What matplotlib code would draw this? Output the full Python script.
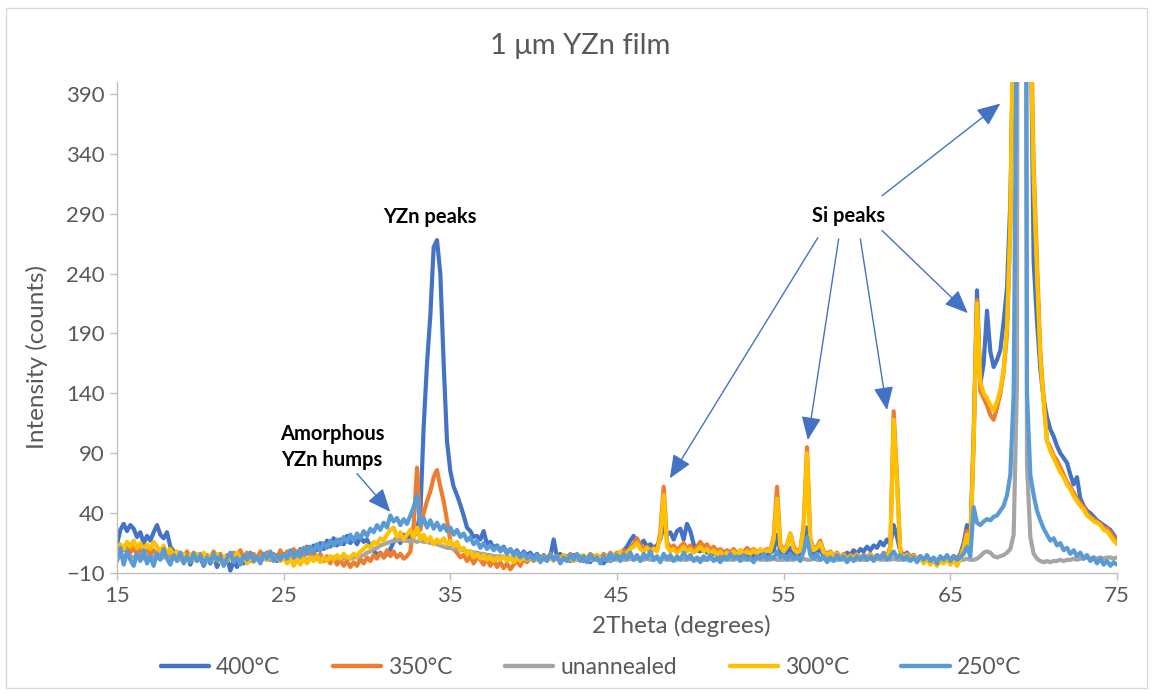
import numpy as np
import matplotlib.pyplot as plt
from matplotlib.patches import Rectangle

plt.rcParams['font.family'] = ['Lato', 'DejaVu Sans']

# 2theta sampling: 0.2 deg steps, 15..75 (each row below = 5 degrees)
two_theta = np.round(np.linspace(15.0, 75.0, 301), 1)

counts_400 = [
    14, 26, 31, 25, 30, 27, 20, 24, 15, 21, 17, 24, 30, 22, 19, 24, 12, 8, 4, 7, 1, 5, -3, 4, 0,
    3, -4, 2, -2, 5, -5, 1, -3, 3, -8, 0, -5, 2, -2, 4, 0, 5, 1, 6, 2, 7, 1, 5, 0, 4,
    3, 7, 2, 8, 4, 10, 6, 12, 7, 13, 9, 15, 10, 17, 12, 19, 13, 18, 14, 21, 15, 19, 14, 20, 16,
    18, 12, 9, 5, 7, 3, 6, 10, 16, 20, 15, 22, 18, 24, 20, 26, 40, 112, 165, 205, 262, 268, 240, 165, 100,
    75, 62, 55, 47, 38, 28, 25, 20, 21, 18, 25, 14, 16, 11, 13, 9, 12, 7, 10, 6, 9, 4, 8, 5, 7,
    3, 6, 2, 5, 1, 4, 18, 3, 6, 1, 4, 0, 5, 2, 4, 0, 3, -1, 4, 1, 3, -2, 2, 0, 3,
    2, 5, 9, 12, 17, 21, 16, 14, 17, 12, 14, 11, 13, 18, 30, 22, 24, 18, 25, 27, 18, 31, 25, 14, 9,
    8, 11, 7, 10, 6, 9, 5, 8, 4, 7, 3, 6, 4, 7, 3, 6, 4, 8, 5, 7, 4, 7, 9, 22, 8,
    5, 7, 11, 6, 4, 6, 9, 28, 8, 5, 7, 10, 4, 6, 2, 5, 1, 4, 3, 7, 5, 9, 6, 10, 8,
    12, 9, 13, 11, 16, 13, 18, 14, 30, 20, 8, 5, 7, 3, 5, 1, 4, 0, 3, -1, 2, 0, 3, -1, 2,
    1, 4, 2, 6, 15, 30, 18, 100, 226, 148, 165, 209, 175, 162, 168, 176, 200, 228, 300, 450, 1200, 3500, 2000, 700, 480,
    250, 200, 160, 135, 120, 110, 104, 96, 90, 86, 82, 72, 64, 70, 52, 46, 42, 40, 37, 34, 32, 30, 28, 26, 22,
    18,
]

counts_350 = [
    6, 12, 9, 14, 7, 12, 5, 10, 6, 11, 4, 9, 5, 10, 3, 8, 2, 7, 1, 6, 2, 8, 3, 7, 1,
    6, 0, 5, 2, 8, 1, 6, 0, 5, 2, 7, 1, 9, 3, 7, 0, 6, 2, 8, 3, 7, 1, 6, 2, 9,
    3, 8, 2, 10, 4, 9, 3, 11, 5, 8, 2, 6, 0, 4, -2, 3, -3, 1, -4, 0, -5, -1, -4, 2, -2,
    3, 0, 5, 2, 7, 3, 9, 4, 8, 3, 6, 2, 4, 8, 30, 78, 26, 40, 50, 58, 70, 76, 62, 50, 34,
    17, 10, 7, 3, 5, 0, 4, -2, 3, 1, -3, 2, -4, 1, -5, -1, -6, -2, -7, -3, 0, -4, 2, -1, 3,
    0, 4, 1, 5, 2, 6, 1, 4, 0, 5, 2, 6, 3, 5, 1, 4, 2, 6, 3, 5, 2, 6, 3, 7, 4,
    7, 5, 9, 6, 11, 14, 19, 13, 10, 12, 8, 11, 9, 24, 62, 16, 11, 13, 9, 12, 15, 10, 13, 8, 12,
    16, 12, 14, 9, 12, 8, 10, 6, 9, 7, 10, 6, 9, 7, 11, 8, 10, 7, 9, 8, 10, 9, 20, 62, 14,
    9, 13, 23, 12, 8, 10, 30, 95, 18, 10, 12, 17, 8, 6, 8, 4, 7, 3, 6, 2, 5, 3, 6, 2, 5,
    3, 6, 2, 5, 3, 7, 4, 12, 125, 70, 8, 4, 6, 2, 5, 1, 4, 0, 3, -2, 2, -1, 3, 0, 2,
    1, 4, 0, 5, 12, 25, 14, 110, 218, 142, 136, 130, 122, 118, 128, 140, 158, 190, 278, 480, 1300, 3400, 2000, 750, 480,
    330, 250, 175, 135, 100, 95, 88, 84, 78, 72, 66, 62, 57, 52, 48, 45, 40, 37, 35, 33, 31, 28, 27, 24, 20,
    17,
]

counts_unannealed = [
    2, 4, 3, 5, 4, 3, 5, 4, 2, 4, 3, 5, 3, 2, 4, 3, 2, 4, 3, 1, 3, 2, 4, 2, 1,
    3, 1, 2, 3, 1, 2, 0, 2, 1, 3, 1, 2, 0, 2, 1, 3, 1, 2, 0, 2, 1, 3, 1, 2, 1,
    2, 1, 3, 2, 1, 3, 2, 1, 3, 2, 2, 3, 2, 3, 2, 3, 2, 3, 2, 3, 2, 3, 3, 4, 5,
    7, 8, 10, 11, 13, 14, 15, 16, 17, 17, 18, 17, 17, 16, 17, 16, 17, 16, 16, 15, 15, 14, 13, 12, 11,
    11, 10, 10, 9, 9, 8, 8, 7, 7, 6, 6, 5, 5, 4, 4, 4, 3, 3, 3, 2, 3, 2, 2, 3, 2,
    2, 1, 2, 1, 2, 2, 1, 2, 1, 2, 1, 1, 2, 1, 2, 1, 2, 1, 1, 2, 1, 2, 1, 1, 2,
    1, 2, 1, 1, 2, 1, 2, 1, 1, 2, 1, 1, 2, 1, 2, 1, 1, 2, 1, 2, 1, 1, 2, 1, 1,
    2, 1, 1, 2, 1, 1, 2, 1, 2, 1, 1, 2, 1, 1, 2, 1, 1, 2, 1, 1, 2, 1, 2, 1, 1,
    1, 2, 1, 1, 2, 1, 2, 1, 1, 2, 1, 1, 2, 1, 1, 2, 1, 2, 1, 1, 2, 1, 1, 2, 1,
    1, 2, 1, 2, 1, 1, 2, 1, 2, 1, 1, 2, 1, 1, 2, 1, 1, 2, 1, 1, 2, 1, 1, 2, 1,
    1, 1, 2, 1, 1, 2, 1, 1, 2, 4, 7, 8, 7, 4, 3, 4, 5, 7, 10, 22, 150, 3000, 1500, 80, 20,
    6, 2, 0, -1, 0, -1, 0, 0, 1, 0, 1, 1, 2, 1, 2, 2, 3, 2, 3, 2, 3, 2, 3, 3, 2,
    3,
]

counts_300 = [
    8, 14, 10, 16, 12, 17, 11, 15, 9, 14, 10, 16, 12, 8, 13, 6, 10, 4, 8, 2, 6, 0, 5, 1, 6,
    2, 7, 0, 5, 1, 6, -1, 4, 0, 5, 2, 7, 1, 5, -2, 3, -1, 4, 0, 5, 1, 6, 2, 4, 0,
    3, -2, 2, -4, 1, -3, 2, -2, 3, 0, 4, -1, 3, 0, 4, 1, 5, 2, 6, 3, 3, 6, 4, 8, 10,
    13, 11, 16, 14, 19, 17, 22, 26, 28, 20, 24, 18, 22, 26, 20, 28, 18, 22, 16, 20, 14, 18, 15, 19, 14,
    17, 12, 16, 9, 11, 6, 8, 3, 6, 2, 5, 1, 4, 0, 3, 1, 4, 0, 3, -1, 2, 0, 3, 1, 4,
    1, 3, 0, 4, 1, 3, 0, 4, 2, 5, 1, 3, 0, 4, 2, 5, 1, 4, 2, 5, 1, 4, 2, 6, 3,
    5, 8, 4, 7, 10, 12, 15, 10, 8, 11, 7, 10, 8, 20, 55, 12, 8, 10, 7, 9, 12, 8, 10, 7, 9,
    12, 8, 10, 6, 9, 5, 8, 4, 7, 5, 8, 4, 9, 5, 8, 6, 9, 6, 10, 7, 9, 8, 18, 52, 12,
    8, 12, 23, 10, 7, 9, 28, 90, 16, 9, 11, 15, 7, 5, 7, 3, 6, 2, 5, 1, 4, 2, 5, 1, 4,
    2, 5, 1, 4, 2, 5, 3, 10, 118, 65, 6, 3, 5, 1, 4, 0, 3, -2, 2, -3, 1, -4, 0, -2, 2,
    -3, 1, -4, 2, 10, 22, 8, 100, 215, 150, 140, 136, 130, 126, 133, 143, 160, 195, 282, 490, 1300, 3400, 2000, 760, 450,
    320, 240, 170, 132, 100, 92, 86, 80, 74, 70, 64, 60, 54, 50, 46, 43, 38, 36, 33, 32, 30, 26, 25, 21, 17,
    14,
]

counts_250 = [
    0, 11, -3, 8, 1, -4, 6, 0, 9, -2, 4, -4, 6, 1, 10, 2, -3, 5, 0, 7, -2, 4, -1, 6, 0,
    5, -3, 3, -1, 6, 0, 4, -4, 2, 7, -1, 3, -3, 5, 1, 7, 0, 4, -2, 6, 2, 8, 0, 5, 1,
    6, 2, 9, 3, 8, 4, 11, 6, 12, 7, 14, 9, 15, 11, 17, 13, 18, 14, 20, 16, 22, 17, 23, 19, 25,
    21, 27, 24, 30, 26, 32, 28, 38, 33, 36, 30, 35, 31, 38, 45, 55, 30, 36, 28, 34, 27, 32, 26, 30, 25,
    28, 22, 26, 20, 23, 17, 20, 14, 17, 11, 15, 10, 13, 9, 12, 8, 11, 6, 10, 5, 8, 3, 7, 2, 5,
    1, 5, -1, 4, 0, 6, 1, 4, -2, 3, 0, 5, 1, 6, 0, 4, -1, 5, 1, 3, -2, 4, 0, 6, 1,
    5, 0, 6, 2, 7, 1, 5, 0, 6, 2, 8, 1, 4, -1, 6, 2, 5, 0, 4, 1, 7, 2, 5, 0, 3,
    -1, 4, 1, 5, 0, 3, -1, 4, 1, 6, 2, 4, 0, 5, 1, 3, -1, 4, 2, 6, 1, 4, 2, 8, 3,
    5, 1, 6, 2, 4, 0, 8, 20, 5, 2, 6, 1, 4, -1, 3, 0, 5, 1, 4, -1, 3, 0, 4, 1, 5,
    1, 4, 0, 5, 2, 6, 1, 4, 8, 3, 5, 1, 4, 0, 3, -1, 4, 1, 5, 0, 3, -2, 4, 1, 5,
    0, 4, 1, 3, 6, 12, 4, 45, 32, 30, 33, 35, 34, 37, 38, 42, 46, 55, 72, 140, 500, 3000, 1500, 140, 72,
    55, 42, 34, 27, 22, 17, 19, 13, 15, 9, 11, 6, 9, 4, 7, 2, 5, 0, 3, -2, 2, -3, 0, -4, -1,
    -3,
]

series_labels = ['400°C', '350°C', 'unannealed', '300°C', '250°C']
series_counts = [counts_400, counts_350, counts_unannealed, counts_300, counts_250]
series_colors = ['#4472C4', '#ED7D31', '#A5A5A5', '#FFC000', '#5B9BD5']

x_ticks = [15, 25, 35, 45, 55, 65, 75]
y_ticks = [-10, 40, 90, 140, 190, 240, 290, 340, 390]

# annotation arrows: (tail, head) in data units
arrow_color = '#4472C4'
amorphous_arrow = ((29.4, 73), (31.4, 41))
si_arrows = [
    ((57.05, 270), (48.17, 69)),
    ((58.3, 269), (56.45, 101)),
    ((59.6, 269), (61.2, 126)),
    ((60.9, 276), (66.05, 207)),
    ((60.9, 305), (68.0, 382)),
]

W, H = 1153, 694
fig = plt.figure(figsize=(W / 100, H / 100), dpi=100)
ax = fig.add_axes([117 / W, 1 - 573 / H, 1000 / W, 491 / H])

handles = []
for label, counts, color in zip(series_labels, series_counts, series_colors):
    (ln,) = ax.plot(two_theta, counts, color=color, lw=3.0, label=label,
                    solid_joinstyle='round', solid_capstyle='round')
    handles.append(ln)

ax.set_xlim(15, 75)
ax.set_ylim(-10, 400)
ax.set_xticks(x_ticks)
ax.set_yticks(y_ticks)

axis_gray = '#BFBFBF'
text_gray = '#595959'
for side in ('top', 'right'):
    ax.spines[side].set_visible(False)
for side in ('left', 'bottom'):
    ax.spines[side].set_color(axis_gray)
    ax.spines[side].set_linewidth(1.0)
ax.tick_params(axis='both', direction='out', length=5, width=1.0, color=axis_gray,
               labelcolor=text_gray, labelsize=16, pad=4)

fig.text(580 / W, 1 - 46 / H, '1 μm YZn film', ha='center', va='center',
         fontsize=21, color=text_gray)
fig.text(37 / W, 1 - 357 / H, 'Intensity (counts)', ha='center', va='center',
         rotation=90, fontsize=17.5, color=text_gray)
fig.text(681 / W, 1 - 626 / H, '2Theta (degrees)', ha='center', va='center',
         fontsize=17.5, color=text_gray)

leg = fig.legend(handles, series_labels, loc='center', bbox_to_anchor=(591 / W, 1 - 668 / H),
                 ncol=5, frameon=False, fontsize=16.5, handlelength=2.1, handletextpad=0.3,
                 columnspacing=2.3, labelcolor=text_gray)
for h in leg.legend_handles:
    h.set_linewidth(3.2)

# labels and arrows
ax.text(33.78, 287.5, 'YZn peaks', ha='center', va='center', fontsize=14.5,
        fontweight='bold', color='black')
ax.text(58.91, 288.3, 'Si peaks', ha='center', va='center', fontsize=14.5,
        fontweight='bold', color='black')
ax.text(27.9, 95, 'Amorphous\nYZn humps', ha='center', va='center', fontsize=14.5,
        fontweight='bold', color='black', linespacing=1.35)

arrow_style = dict(arrowstyle='-|>,head_length=0.9,head_width=0.38', color=arrow_color,
                   lw=1.0, shrinkA=0, shrinkB=0, mutation_scale=16)
for tail, head in [amorphous_arrow] + si_arrows:
    ax.annotate('', xy=head, xytext=tail, arrowprops=arrow_style)

# chart area border
fig.patches.append(Rectangle((6 / W, 1 - 688 / H), 1141 / W, 680 / H, transform=fig.transFigure,
                             fill=False, edgecolor='#D9D9D9', lw=1.0))

fig.savefig('out.png', dpi=100)
